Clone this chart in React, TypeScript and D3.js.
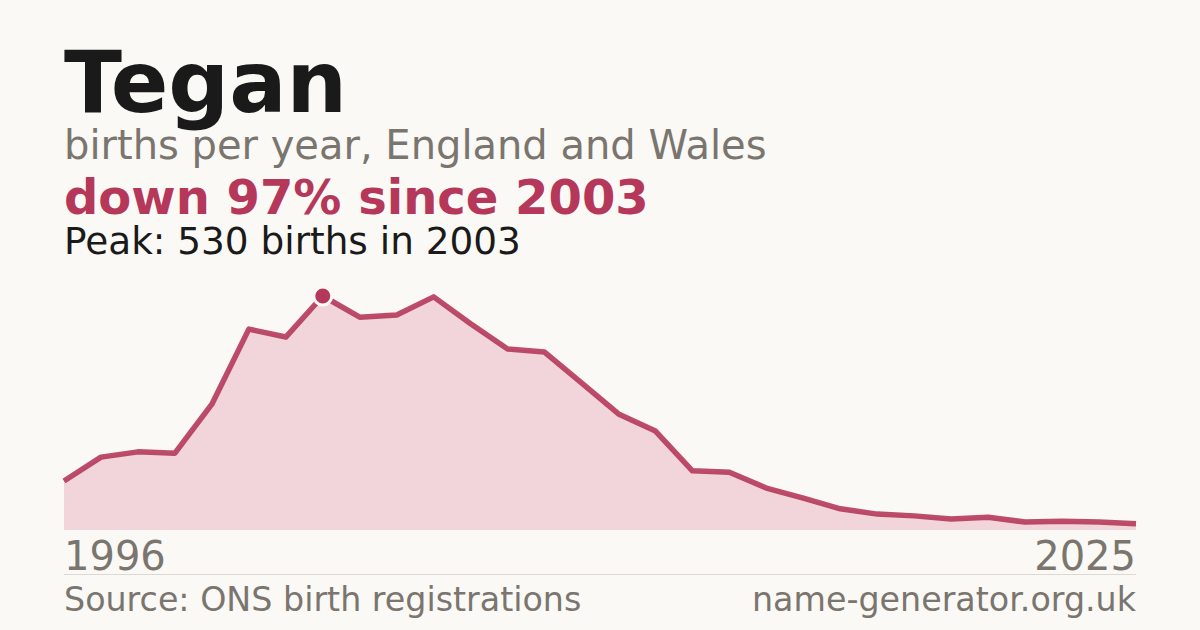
import React from "react";
import * as d3 from "d3";

const years: number[] = d3.range(1996, 2026);
const births: number[] = [111, 165, 177, 174, 285, 455, 437, 530, 482, 487, 528, 467, 410, 403, 333, 263, 224, 134, 131, 95, 72, 48, 36, 32, 25, 29, 18, 20, 18, 14];
const nameTitle = "Tegan";
const subtitle = "births per year, England and Wales";
const headline = "down 97% since 2003";
const peakText = "Peak: 530 births in 2003";
const sourceText = "Source: ONS birth registrations";
const siteText = "name-generator.org.uk";

const W = 1200;
const H = 630;
const FONT = "'DejaVu Sans', sans-serif";
const RED = "#b5385a";
const GREY = "#7a756e";

export default function App() {
  const x = d3.scaleLinear().domain([1996, 2025]).range([64, 1136]);
  const y = d3.scaleLinear().domain([0, 530]).range([530, 296]);
  const data = years.map((yr, i) => ({ yr, v: births[i] }));
  const area = d3.area<{ yr: number; v: number }>().x(d => x(d.yr)).y0(y(0)).y1(d => y(d.v));
  const line = d3.line<{ yr: number; v: number }>().x(d => x(d.yr)).y(d => y(d.v));
  const peakIdx = births.indexOf(d3.max(births) as number);
  const peak = data[peakIdx];
  return (
    <svg width={W} height={H} style={{ position: "absolute", left: 0, top: 0 }} fontFamily={FONT}>
      <rect width={W} height={H} fill="#faf9f5" />
      <text x={64} y={112} fontSize={85} fontWeight="bold" fill="#1a1a1a">{nameTitle}</text>
      <text x={64} y={159} fontSize={40} fill={GREY}>{subtitle}</text>
      <text x={64} y={214} fontSize={48} fontWeight="bold" fill={RED}>{headline}</text>
      <text x={64} y={254} fontSize={37.4} fill="#1a1a1a">{peakText}</text>
      <path d={area(data) || ""} fill="#f2d5da" />
      <path d={line(data) || ""} fill="none" stroke={RED} strokeWidth={5.5} strokeLinejoin="round" strokeOpacity={0.9} />
      <circle cx={x(peak.yr)} cy={y(peak.v)} r={9} fill={RED} stroke="#faf9f5" strokeWidth={3} />
      <text x={64} y={570} fontSize={40} fill={GREY}>{years[0]}</text>
      <text x={1136} y={570} fontSize={40} fill={GREY} textAnchor="end">{years[years.length - 1]}</text>
      <line x1={64} x2={1136} y1={574.5} y2={574.5} stroke="#ddd8d0" strokeWidth={1} />
      <text x={64} y={611} fontSize={33.3} fill={GREY}>{sourceText}</text>
      <text x={1136} y={611} fontSize={33.3} fill={GREY} textAnchor="end">{siteText}</text>
    </svg>
  );
}
